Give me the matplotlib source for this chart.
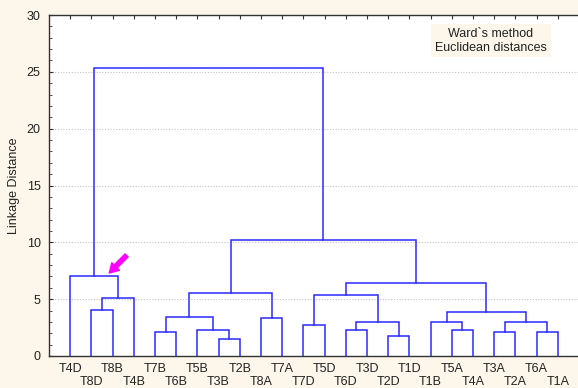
import matplotlib
matplotlib.use("Agg")
import matplotlib.pyplot as plt

plt.rcParams['font.family'] = ['Liberation Sans', 'DejaVu Sans']

# Leaf order (left to right)
leaves = ["T4D", "T8D", "T8B", "T4B", "T7B", "T6B", "T5B", "T3B", "T2B", "T8A",
          "T7A", "T7D", "T5D", "T6D", "T3D", "T2D", "T1D", "T1B", "T5A", "T4A",
          "T3A", "T2A", "T6A", "T1A"]

# Merges (scipy-linkage style: ids < 24 are leaves, id 24+k is merge k)
merge_left = [1, 24, 0, 4, 7, 6, 27, 9, 30, 11, 13, 15, 34, 33, 18, 17, 20, 22, 40, 39, 37, 32, 26]
merge_right = [2, 3, 25, 5, 8, 28, 29, 10, 31, 12, 14, 16, 35, 36, 19, 38, 21, 23, 41, 42, 43, 44, 45]
merge_height = [4.01, 5.07, 7.0, 2.08, 1.46, 2.25, 3.40, 3.31, 5.51, 2.69, 2.31, 1.75,
                2.98, 5.33, 2.31, 2.98, 2.08, 2.08, 2.98, 3.86, 6.42, 10.2, 25.34]

y_ticks = [0, 5, 10, 15, 20, 25, 30]
title_text = "Ward`s method\nEuclidean distances"
y_label = "Linkage Distance"

bg = '#FCF7EA'
line_col = '#2a2aff'
fs = 9

fig = plt.figure(figsize=(5.78, 3.88), dpi=100, facecolor=bg)
ax = fig.add_axes([49/578, 32/388, 530/578, 341/388])
ax.set_facecolor('white')

n = len(leaves)
pos = {i: (float(i), 0.0) for i in range(n)}
for k, (a, b, h) in enumerate(zip(merge_left, merge_right, merge_height)):
    xa, ya = pos[a]
    xb, yb = pos[b]
    ax.plot([xa, xa, xb, xb], [ya, h, h, yb], color=line_col, lw=1.1,
            solid_joinstyle='miter', zorder=3)
    pos[n + k] = ((xa + xb) / 2, h)

ax.set_xlim(-1, n)
ax.set_ylim(0, 30)
ax.set_yticks(y_ticks)
ax.set_yticks(range(0, 31), minor=True)
ax.yaxis.grid(True, which='major', linestyle=(0, (1, 1.5)), color='#c4c4c4', lw=0.8)
ax.set_axisbelow(True)

# top ticks at leaf positions; bottom labels in two staggered rows
ax.set_xticks(range(n))
ax.set_xticklabels([])
ax.tick_params(axis='x', which='both', bottom=False, top=True, direction='in',
               length=3, colors='#333333', labelbottom=False)
for i, lab in enumerate(leaves):
    off = -13 if i % 2 == 0 else -26
    ax.annotate(lab, xy=(i, 0), xycoords=('data', 'axes fraction'),
                xytext=(0, off * 0.72), textcoords='offset points',
                ha='center', va='center', fontsize=fs, color='#222222',
                annotation_clip=False)

ax.tick_params(axis='y', which='major', direction='in', length=3, labelsize=fs,
               pad=6, colors='#333333', labelcolor='#222222')
ax.tick_params(axis='y', which='minor', direction='in', length=2, colors='#333333')
for s in ['left', 'bottom', 'top']:
    ax.spines[s].set_color('#333333')
    ax.spines[s].set_linewidth(1.0)
ax.spines['right'].set_visible(False)

ax.set_ylabel(y_label, fontsize=fs, color='#222222', labelpad=5)

ax.text(0.834, 0.924, title_text, transform=ax.transAxes, ha='center', va='center',
        fontsize=fs, color='#222222', linespacing=1.15,
        bbox=dict(boxstyle='square,pad=0.3', facecolor=bg, edgecolor='none'))

ax.annotate('', xy=(1.84, 7.3), xytext=(2.66, 8.85),
            arrowprops=dict(arrowstyle='simple,head_width=0.7,head_length=0.6,tail_width=0.28',
                            color='#ff00ff', mutation_scale=11, shrinkA=0, shrinkB=0),
            zorder=5)

fig.savefig('out.png', dpi=100, facecolor=bg)
